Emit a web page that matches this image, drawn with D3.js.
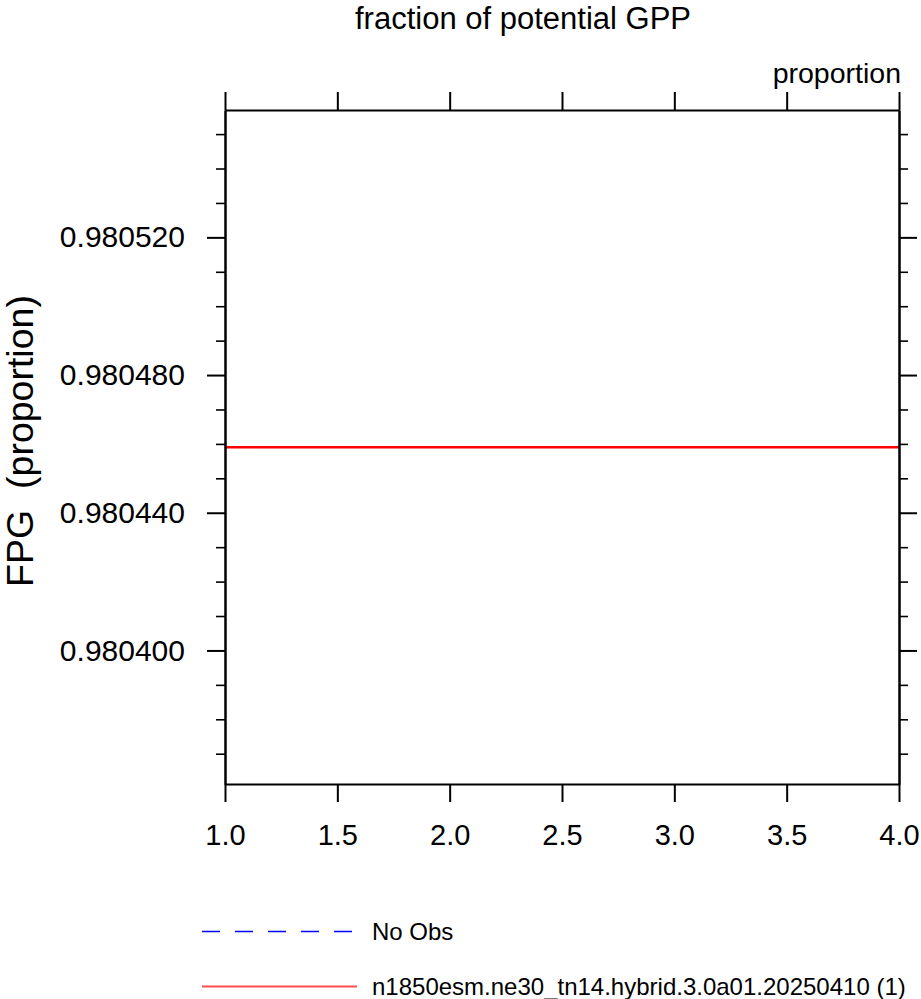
<!DOCTYPE html>
<html>
<head>
<meta charset="utf-8">
<script src="https://cdn.jsdelivr.net/npm/d3@7"></script>
<style>
  body { margin: 0; background: #fff; overflow: hidden; }
  svg { font-family: "Liberation Sans", Arial, Helvetica, sans-serif; display: block; }
</style>
</head>
<body>
<div id="chart"></div>
<script>
// data
const xValues = [1, 2, 3, 4];
const modelValues = [0.980459, 0.980459, 0.980459, 0.980459];
const xTicks = [1.0, 1.5, 2.0, 2.5, 3.0, 3.5, 4.0];
const yTicks = [0.980400, 0.980440, 0.980480, 0.980520];
const yMinorTicks = [0.98037, 0.98038, 0.98039, 0.98041, 0.98042, 0.98043,
  0.98045, 0.98046, 0.98047, 0.98049, 0.98050, 0.98051, 0.98053, 0.98054, 0.98055];
const legendNames = ["No Obs", "n1850esm.ne30_tn14.hybrid.3.0a01.20250410 (1)"];
const legendColors = ["#0000ff", "#ff0000"];

const svgWidth = 921, svgHeight = 999;
const plotLeft = 225, plotRight = 899, plotTop = 110, plotBottom = 784;

const svg = d3.select("#chart")
  .append("svg")
  .attr("width", svgWidth)
  .attr("height", svgHeight);

const x = d3.scaleLinear().domain([1, 4]).range([plotLeft, plotRight]);
const y = d3.scaleLinear().domain([0.9803612, 0.980557]).range([plotBottom, plotTop]);

// red model line
const line = d3.line()
  .x((d, i) => x(xValues[i]))
  .y(d => y(d));

svg.append("path")
  .datum(modelValues)
  .attr("d", line)
  .attr("fill", "none")
  .attr("stroke", "#ff0000")
  .attr("stroke-width", 2.5);

function styleAxis(g) {
  g.selectAll("path.domain").attr("stroke", "#000").attr("stroke-width", 2);
  g.selectAll(".tick line").attr("stroke", "#000").attr("stroke-width", 2);
}

// bottom axis
svg.append("g")
  .attr("transform", `translate(0,${plotBottom})`)
  .call(d3.axisBottom(x).tickValues(xTicks).tickSize(18).tickSizeOuter(0).tickPadding(22).tickFormat(d3.format(".1f")))
  .call(styleAxis)
  .call(g => g.selectAll("text").attr("font-size", 29).attr("fill", "#000").attr("font-family", null));

// top axis
svg.append("g")
  .attr("transform", `translate(0,${plotTop})`)
  .call(d3.axisTop(x).tickValues(xTicks).tickSize(18).tickSizeOuter(0).tickFormat(""))
  .call(styleAxis);

// left axis, minor then major
svg.append("g")
  .attr("transform", `translate(${plotLeft},0)`)
  .call(d3.axisLeft(y).tickValues(yMinorTicks).tickSize(9).tickSizeOuter(0).tickFormat(""))
  .call(styleAxis)
  .call(g => g.selectAll(".tick line").attr("stroke-width", 1.6));

svg.append("g")
  .attr("transform", `translate(${plotLeft},0)`)
  .call(d3.axisLeft(y).tickValues(yTicks).tickSize(18).tickSizeOuter(0).tickPadding(22).tickFormat(d3.format(".6f")))
  .call(styleAxis)
  .call(g => g.selectAll("text").attr("font-size", 30).attr("fill", "#000").attr("font-family", null));

// right axis
svg.append("g")
  .attr("transform", `translate(${plotRight},0)`)
  .call(d3.axisRight(y).tickValues(yMinorTicks).tickSize(9).tickSizeOuter(0).tickFormat(""))
  .call(styleAxis)
  .call(g => g.selectAll(".tick line").attr("stroke-width", 1.6));

svg.append("g")
  .attr("transform", `translate(${plotRight},0)`)
  .call(d3.axisRight(y).tickValues(yTicks).tickSize(18).tickSizeOuter(0).tickFormat(""))
  .call(styleAxis);

// titles
svg.append("text")
  .attr("x", 523)
  .attr("y", 29)
  .attr("text-anchor", "middle")
  .attr("font-size", 31)
  .text("fraction of potential GPP");

svg.append("text")
  .attr("x", 901)
  .attr("y", 83)
  .attr("text-anchor", "end")
  .attr("font-size", 28.5)
  .text("proportion");

svg.append("text")
  .attr("transform", "translate(33,441) rotate(-90)")
  .attr("text-anchor", "middle")
  .attr("font-size", 37.5)
  .style("white-space", "pre")
  .text("FPG  (proportion)");

// legend
const legendRows = [931.5, 986.5];
const legend = svg.append("g");
legendNames.forEach((name, i) => {
  const ly = legendRows[i];
  legend.append("line")
    .attr("x1", 202).attr("x2", 357)
    .attr("y1", ly).attr("y2", ly)
    .attr("stroke", legendColors[i])
    .attr("stroke-width", i === 0 ? 1.4 : 1.8)
    .attr("stroke-opacity", i === 0 ? 1 : 0.7)
    .attr("stroke-dasharray", i === 0 ? "18,15" : null);
  legend.append("text")
    .attr("x", 372)
    .attr("y", ly + 8.5)
    .attr("font-size", 24)
    .text(name);
});
</script>
</body>
</html>
